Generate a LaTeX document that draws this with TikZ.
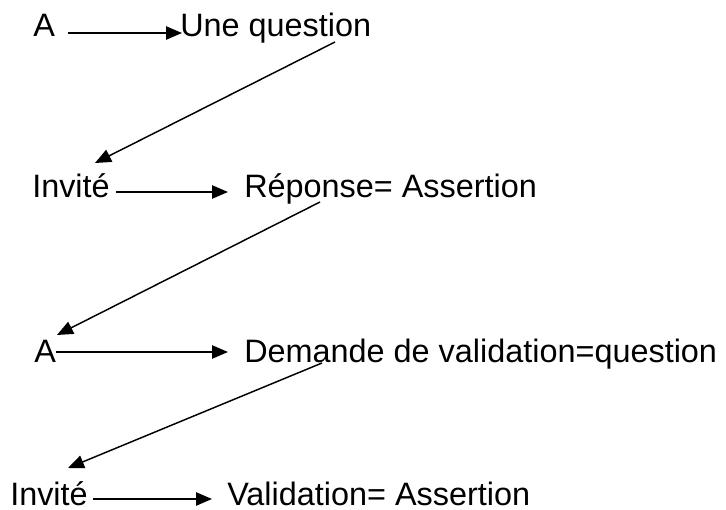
\documentclass[tikz,border=0pt]{standalone}
\usepackage{fontspec}
\setmainfont{Liberation Sans}
\usetikzlibrary{arrows.meta}

\tikzset{
    mot/.style={anchor=base west, inner sep=0pt, font=\fontsize{24.3}{28}\selectfont},
    fleche/.style={line width=1.1pt, -{Triangle[length=12pt, width=10pt]}}
}

\begin{document}
\begin{tikzpicture}[x=0.75pt, y=-0.75pt]
    \useasboundingbox (0,0) rectangle (726,510);

    \node[mot] (a1) at (33,37) {A};
    \node[mot] (q1) at (180,37) {Une question};
    \draw[fleche] ([shift={(13,-4)}]a1.base east) -- ([shift={(2,-4)}]q1.base west);

    \node[mot] (i1) at (32,198) {Invité};
    \node[mot] (r1) at (244,198) {Réponse= Assertion};
    \draw[fleche] ([shift={(6.5,-6)}]i1.base east) -- ([shift={(-16,-6)}]r1.base west);
    \draw[fleche] ([shift={(155,5)}]q1.base west) -- ([shift={(63,-35)}]i1.base west);

    \node[mot] (a2) at (34,362) {A};
    \node[mot] (dv) at (244,362) {Demande de validation=question};
    \draw[fleche] ([shift={(0,-10)}]a2.base east) -- ([shift={(-16,-10)}]dv.base west);
    \draw[fleche] ([shift={(76,4)}]r1.base west) -- ([shift={(23,-27)}]a2.base west);

    \node[mot] (i2) at (10,505) {Invité};
    \node[mot] (va) at (227,505) {Validation= Assertion};
    \draw[fleche] ([shift={(5.5,-6)}]i2.base east) -- ([shift={(-15,-6)}]va.base west);
    \draw[fleche] ([shift={(78,1)}]dv.base west) -- ([shift={(58,-37)}]i2.base west);
\end{tikzpicture}
\end{document}
